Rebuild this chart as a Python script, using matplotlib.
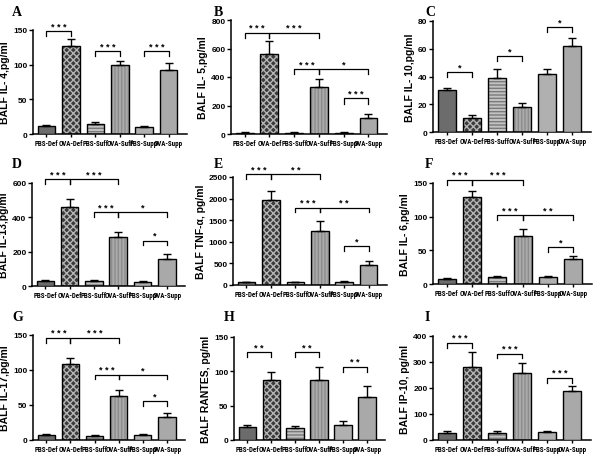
import matplotlib
matplotlib.use("Agg")
import matplotlib.pyplot as plt
from matplotlib import font_manager
import numpy as np

# groups shown on every panel
groups = ["PBS-Def", "OVA-Def", "PBS-Suff", "OVA-Suff", "PBS-Supp", "OVA-Supp"]

# bar values (mean) and upper error (sem)
il4 = [11, 127, 15, 100, 10, 92]
il4_err = [2, 10, 2, 6, 2, 10]
il5 = [10, 560, 8, 330, 8, 115]
il5_err = [3, 90, 4, 55, 3, 25]
il10 = [30, 10, 39, 18, 42, 62]
il10_err = [2, 2.5, 6.5, 3, 3.5, 5.5]
il13 = [28, 460, 30, 283, 25, 158]
il13_err = [5, 47, 5, 32, 3, 28]
tnf = [60, 1970, 65, 1240, 70, 470]
tnf_err = [15, 210, 15, 250, 15, 75]
il6 = [7, 129, 11, 72, 10, 37]
il6_err = [1.2, 9, 1.5, 9, 1.2, 4.5]
il17 = [7, 109, 6, 63, 7, 33]
il17_err = [1, 8, 1, 9, 1, 5]
rantes = [19, 88, 18, 87, 22, 62]
rantes_err = [2.5, 10.5, 2.5, 19, 6, 16]
ip10 = [27, 282, 28, 257, 30, 190]
ip10_err = [8, 57, 5, 41, 4, 19]

# significance brackets: (from group, to group, height, stars)
il4_sig = [(0, 1, 148, "***"), (2, 3, 119, "***"), (4, 5, 119, "***")]
il5_sig = [(0, 1, 711, "***"), (1, 3, 711, "***"), (2, 3, 455, "***"),
           (3, 5, 455, "*"), (4, 5, 250, "***")]
il10_sig = [(0, 1, 43, "*"), (2, 3, 55, "*"), (4, 5, 75.5, "*")]
il13_sig = [(0, 1, 623, "***"), (1, 3, 623, "***"), (2, 3, 430, "***"),
            (3, 5, 430, "*"), (4, 5, 265, "*")]
tnf_sig = [(0, 1, 2560, "***"), (1, 3, 2560, "**"), (2, 3, 1792, "***"),
           (3, 5, 1792, "**"), (4, 5, 892, "*")]
il6_sig = [(0, 1, 154.5, "***"), (1, 3, 154.5, "***"), (2, 3, 102, "***"),
           (3, 5, 102, "**"), (4, 5, 55, "*")]
il17_sig = [(0, 1, 145.7, "***"), (1, 3, 145.7, "***"), (2, 3, 93.4, "***"),
            (3, 5, 93.4, "*"), (4, 5, 56, "*")]
rantes_sig = [(0, 1, 128, "**"), (2, 3, 128, "**"), (4, 5, 106.5, "**")]
ip10_sig = [(0, 1, 373, "***"), (2, 3, 332, "***"), (4, 5, 239, "***")]

# bar look per group: face colour, hatch, hatch colour
faces = ["#6c6c6c", "#3a3a3a", "#c2c2c2", "#ababab", "#b0b0b0", "#a9a9a9"]
hatches = [None, "xxxxx", "-----", "|||||", None, None]
hatch_cols = [None, "#b5b5b5", "#7a7a7a", "#8c8c8c", None, None]

panels = [
    ("A", "BALF IL- 4,pg/ml", il4, il4_err, il4_sig, 150, 50),
    ("B", "BALF IL- 5,pg/ml", il5, il5_err, il5_sig, 800, 200),
    ("C", "BALF IL- 10,pg/ml", il10, il10_err, il10_sig, 80, 20),
    ("D", "BALF IL-13,pg/ml", il13, il13_err, il13_sig, 600, 200),
    ("E", "BALF TNF-\u03b1, pg/ml", tnf, tnf_err, tnf_sig, 2500, 500),
    ("F", "BALF IL- 6,pg/ml", il6, il6_err, il6_sig, 150, 50),
    ("G", "BALF IL-17,pg/ml", il17, il17_err, il17_sig, 150, 50),
    ("H", "BALF RANTES, pg/ml", rantes, rantes_err, rantes_sig, 150, 50),
    ("I", "BALF IP-10, pg/ml", ip10, ip10_err, ip10_sig, 400, 100),
]

# axes boxes in pixels (left, top, right, bottom) and letter positions
W, H = 600, 456
boxes = [(33, 31, 187, 135), (231, 21, 387, 135), (433, 22, 591, 133),
         (32, 184, 185, 287), (233, 178, 387, 286), (433, 184, 592, 285),
         (33, 336, 185, 441), (234, 338, 385, 441), (433, 337, 591, 441)]
letters = [(12, 12), (214, 12), (425, 12), (12, 165), (214, 165), (425, 165),
           (12, 318), (224, 318), (425, 318)]

# pick a narrow face for the crowded tick labels if one is there
installed = {f.name for f in font_manager.fontManager.ttflist}
narrow, xsize = ["Liberation Sans", "DejaVu Sans"], 4.0
for name in ["Liberation Sans Narrow", "DejaVu Sans Condensed", "Roboto Condensed",
             "Open Sans Condensed"]:
    if name in installed:
        narrow, xsize = [name, "DejaVu Sans"], 5.0
        break
sans = ["Liberation Sans", "DejaVu Sans"]

fig = plt.figure(figsize=(6, 4.56), dpi=100)
x = np.arange(len(groups))

for k, (lab, ylab, vals, errs, sigs, ymax, step) in enumerate(panels):
    l, t, r, b = boxes[k]
    ax = fig.add_axes([l / W, 1 - b / H, (r - l) / W, (b - t) / H])

    for i in range(len(groups)):
        if hatches[i]:
            ax.bar(x[i], vals[i], 0.72, color=faces[i], edgecolor=hatch_cols[i],
                   hatch=hatches[i], linewidth=0, zorder=2)
            ax.bar(x[i], vals[i], 0.72, fill=False, edgecolor="black",
                   linewidth=1, zorder=3)
        else:
            ax.bar(x[i], vals[i], 0.72, color=faces[i], edgecolor="black",
                   linewidth=1, zorder=3)
    ax.errorbar(x, vals, yerr=[np.zeros(len(errs)), errs], fmt="none",
                ecolor="black", elinewidth=1, capsize=3, capthick=1, zorder=4)

    # brackets
    leg = 0.045 * ymax
    for i, j, y, txt in sigs:
        ax.plot([x[i], x[i], x[j], x[j]], [y - leg, y, y, y - leg],
                color="black", lw=0.9, clip_on=False, zorder=5)
        ax.text((x[i] + x[j]) / 2, y + 0.005 * ymax, " ".join(txt), ha="center",
                va="bottom", fontsize=6.5, fontweight="bold", family=sans,
                clip_on=False)

    ax.set_xlim(-0.55, 5.75)
    ax.set_ylim(0, ymax)
    ax.set_yticks(np.arange(0, ymax + 1, step))
    ax.set_xticks(x)
    ax.set_xticklabels(groups, fontsize=xsize, fontweight="bold", family=narrow)
    for tl in ax.get_yticklabels():
        tl.set_fontsize(6)
        tl.set_fontweight("bold")
        tl.set_family(sans)
    ax.set_ylabel(ylab, fontsize=7.5, fontweight="bold", family=sans, labelpad=2)
    ax.spines["top"].set_visible(False)
    ax.spines["right"].set_visible(False)
    ax.spines["left"].set_linewidth(1.1)
    ax.spines["bottom"].set_linewidth(1.1)
    ax.tick_params(axis="y", length=3, width=1, pad=1)
    ax.tick_params(axis="x", length=2, width=1, pad=1.5)

    lx, ly = letters[k]
    fig.text(lx / W, 1 - ly / H, lab, fontsize=10, fontweight="bold",
             family=["Liberation Serif", "DejaVu Serif"], ha="left", va="center")

fig.savefig("out.png", dpi=100)
